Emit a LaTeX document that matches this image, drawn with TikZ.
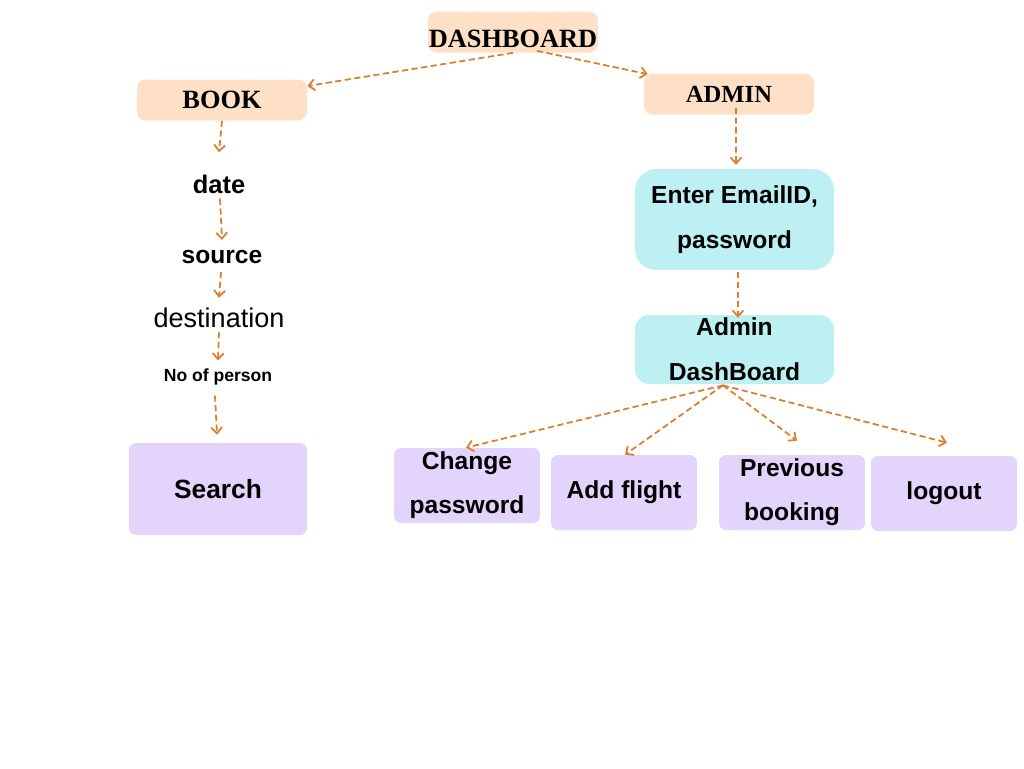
\documentclass[tikz,border=0pt]{standalone}
\usepackage{fontspec}
\setmainfont{Liberation Sans}
\newfontfamily\headfont{Liberation Serif}
\usepackage{xcolor}
\usepackage{tikz}
\usetikzlibrary{positioning,calc,arrows.meta}
\definecolor{PeachBox}{RGB}{254,224,198}
\definecolor{CyanBox}{RGB}{189,240,242}
\definecolor{LilacBox}{RGB}{227,212,252}
\definecolor{FlowOrange}{RGB}{222,125,44}
\tikzset{
    headbox/.style={rectangle, rounded corners=5pt, fill=PeachBox, minimum width=3.4cm, minimum height=0.82cm, inner sep=0pt, font=\headfont\bfseries\fontsize{15}{18}\selectfont},
    field/.style={inner sep=0pt, font=\bfseries\fontsize{14.5}{17}\selectfont},
    flow/.style={draw=FlowOrange, line width=1pt, dash pattern=on 3.5pt off 2pt, -{Straight Barb[length=1.2mm,width=2.2mm]}}
}
\begin{document}
\begin{tikzpicture}[
                x=0.02cm, y=-0.02cm,
                % cyan boxes on the admin side
                loginbox/.style={
                    rectangle,
                    rounded corners=8pt,
                    fill=CyanBox,
                    minimum width=3.98cm,
                    align=center,
                    inner sep=0pt,
                    font=\bfseries\fontsize{14}{25.5}\selectfont
                },
                % lilac boxes: search and admin actions
                actionbox/.style={
                    rectangle,
                    rounded corners=4pt,
                    fill=LilacBox,
                    minimum width=2.92cm,
                    minimum height=1.5cm,
                    align=center,
                    inner sep=0pt,
                    font=\bfseries\fontsize{14}{25}\selectfont
                }
            ]
                \useasboundingbox (0,0) rectangle (1024,768);
                % top level
                \node[headbox] (dash) at (513,32) {\raisebox{-0.31cm}[0pt][0pt]{DASHBOARD}};
                \node[headbox] (book) at (222,100) {BOOK};
                \node[headbox, font=\headfont\bfseries\fontsize{14}{18}\selectfont] (admin) at (729,94) {ADMIN};
                % booking fields
                \node[field] (date) at (219,184) {date};
                \node[field, font=\bfseries\fontsize{14}{17}\selectfont] (source) at (222,257) {source};
                \node[field, font=\fontsize{15.4}{18}\selectfont] (dest) at (219,318) {destination};
                \node[field, font=\bfseries\fontsize{10}{12}\selectfont] (noper) at (218,377) {No of person};
                \node[actionbox, minimum width=3.56cm, minimum height=1.84cm, font=\bfseries\fontsize{15}{18}\selectfont] (search) at (218,489) {Search};
                % admin side
                \node[loginbox, minimum height=2.02cm, rounded corners=12pt] (enter) at (734.5,219.5) {Enter EmailID,\\password};
                \node[loginbox, minimum height=1.38cm] (admdash) at (734.5,349.5) {Admin\\DashBoard};
                \node[actionbox] (chpw) at (467,485.5) {Change\\password};
                \node[actionbox] (addfl) at (624,492.5) {Add flight};
                \node[actionbox] (prev) at (792,492.5) {Previous\\booking};
                \node[actionbox] (logout) at (944,493.5) {logout};
                % connectors (calc offsets are in pixels, y downwards)
                \draw[flow] (dash.south) -- ($(book.east)+(0,-14)$);
                \draw[flow] ($(dash.south)+(24,-2)$) -- ($(admin.north west)+(4,1)$);
                \draw[flow] (book.south) -- ($(date.north)+(0,-22)$);
                \draw[flow] ($(date.south)+(1,5)$) -- ($(source.north)+(0,-10)$);
                \draw[flow] ($(source.south)+(-1,8)$) -- ($(dest.north)+(0,-10)$);
                \draw[flow] ($(dest.south)+(0,4)$) -- ($(noper.north)+(0,-8)$);
                \draw[flow] ($(noper.south)+(-3,10)$) -- ($(search.north)+(-1,-8)$);
                \draw[flow] ($(admin.south)+(7,-7)$) -- ($(enter.north)+(1.5,-4)$);
                \draw[flow] ($(enter.south)+(3.5,2)$) -- ($(admdash.north)+(3.5,3)$);
                \draw[flow] ($(admdash.south)+(-11.5,1)$) -- ($(chpw.north)+(-1,0)$);
                \draw[flow] ($(admdash.south)+(-11.5,1)$) -- ($(addfl.north)+(1,0)$);
                \draw[flow] ($(admdash.south)+(-11.5,1)$) -- ($(prev.north)+(5,-14)$);
                \draw[flow] ($(admdash.south)+(-11.5,1)$) -- ($(logout.north)+(3,-13)$);
            \end{tikzpicture}
\end{document}
